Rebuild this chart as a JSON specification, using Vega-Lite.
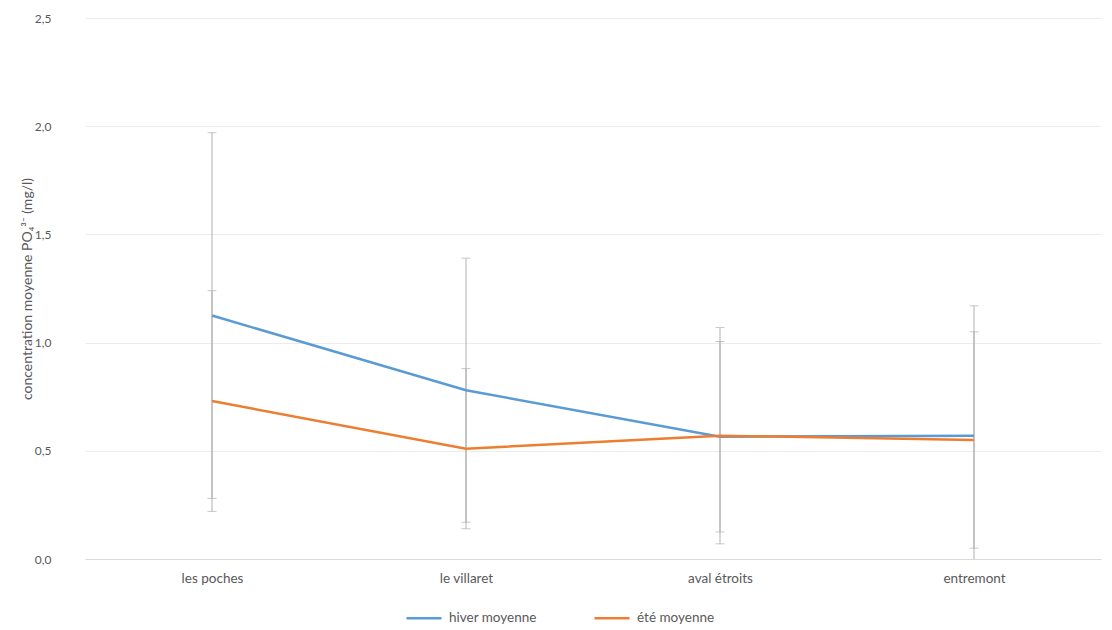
{
  "$schema": "https://vega.github.io/schema/vega-lite/v6.json",
  "autosize": "none",
  "width": 1016,
  "height": 541,
  "padding": {"left": 85, "top": 18, "right": 11, "bottom": 71},
  "background": "white",
  "config": {
    "view": {"stroke": null},
    "font": "Lato",
    "axis": {"labelColor": "#595959", "titleColor": "#595959", "labelFontSize": 12, "labelFont": "Lato", "titleFont": "Lato", "titleFontWeight": "normal", "titleFontSize": 14},
    "legend": {"labelColor": "#595959", "labelFontSize": 13.5, "labelFont": "Lato"}
  },
  "data": {
    "values": [
      {"site": "les poches", "serie": "hiver moyenne", "moy": 1.125, "bas": 0.28, "haut": 1.97},
      {"site": "le villaret", "serie": "hiver moyenne", "moy": 0.78, "bas": 0.17, "haut": 1.39},
      {"site": "aval étroits", "serie": "hiver moyenne", "moy": 0.565, "bas": 0.125, "haut": 1.005},
      {"site": "entremont", "serie": "hiver moyenne", "moy": 0.57, "bas": -0.03, "haut": 1.17},
      {"site": "les poches", "serie": "été moyenne", "moy": 0.73, "bas": 0.22, "haut": 1.24},
      {"site": "le villaret", "serie": "été moyenne", "moy": 0.51, "bas": 0.14, "haut": 0.88},
      {"site": "aval étroits", "serie": "été moyenne", "moy": 0.57, "bas": 0.07, "haut": 1.07},
      {"site": "entremont", "serie": "été moyenne", "moy": 0.55, "bas": 0.05, "haut": 1.05}
    ]
  },
  "encoding": {
    "x": {
      "field": "site", "type": "nominal",
      "sort": ["les poches", "le villaret", "aval étroits", "entremont"],
      "scale": {"type": "point", "padding": 0.5},
      "axis": {"title": null, "labelAngle": 0, "ticks": false, "domain": true, "domainColor": "#d9d9d9", "labelPadding": 12, "labelFontSize": 13.5, "grid": false}
    }
  },
  "layer": [
    {
      "mark": {"type": "rule", "color": "#b0b0b0", "strokeWidth": 1, "clip": true},
      "encoding": {
        "y": {"field": "bas", "type": "quantitative"},
        "y2": {"field": "haut"}
      }
    },
    {
      "mark": {"type": "tick", "color": "#b0b0b0", "size": 9, "thickness": 1, "clip": true},
      "encoding": {"y": {"field": "bas", "type": "quantitative"}}
    },
    {
      "mark": {"type": "tick", "color": "#b0b0b0", "size": 9, "thickness": 1, "clip": true},
      "encoding": {"y": {"field": "haut", "type": "quantitative"}}
    },
    {
      "mark": {"type": "line", "strokeWidth": 2.5},
      "encoding": {
        "y": {
          "field": "moy", "type": "quantitative",
          "scale": {"domain": [0, 2.5], "nice": false},
          "axis": {
            "title": "concentration moyenne PO₄³⁻ (mg/l)",
            "values": [0, 0.5, 1, 1.5, 2, 2.5],
            "labelExpr": "replace(format(datum.value, '.1f'), '.', ',')",
            "grid": true, "gridColor": "#ececec", "domain": false, "ticks": false,
            "labelPadding": 34, "titlePadding": 0
          }
        },
        "color": {
          "field": "serie", "type": "nominal",
          "scale": {"domain": ["hiver moyenne", "été moyenne"], "range": ["#5B9BD5", "#ED7D31"]},
          "legend": {"title": null, "orient": "none", "legendX": 320, "legendY": 581, "direction": "horizontal", "symbolType": "stroke", "symbolSize": 1225, "symbolStrokeWidth": 2.5, "labelOffset": 6, "columnPadding": 52}
        }
      }
    }
  ]
}
